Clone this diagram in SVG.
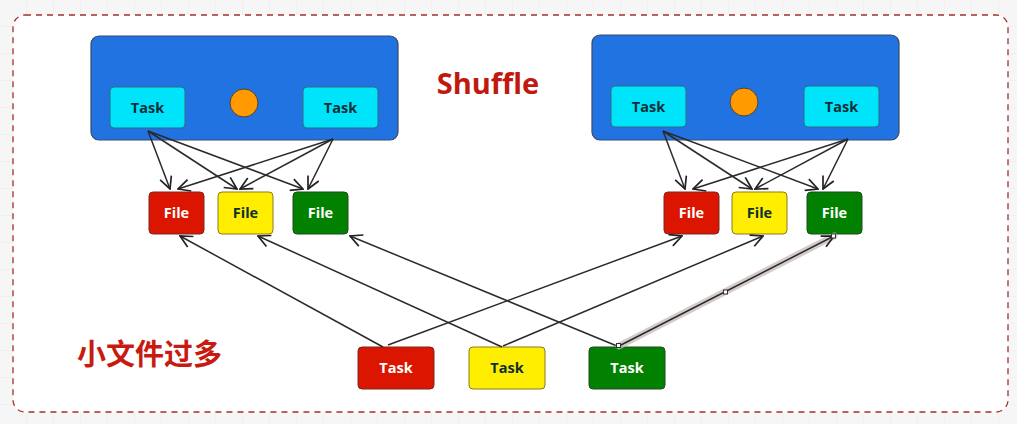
<svg xmlns="http://www.w3.org/2000/svg" width="1017" height="424" viewBox="0 0 1017 424">
  <defs>
    <pattern id="grid" width="27" height="27" patternUnits="userSpaceOnUse">
      <rect width="27" height="27" fill="#f6f6f6"/>
      <path d="M27 0V27M0 27H27" fill="none" stroke="#ebebeb" stroke-width="1"/>
    </pattern>
    <marker id="arrow" viewBox="0 0 14 14" refX="13" refY="7" markerWidth="14" markerHeight="14" markerUnits="userSpaceOnUse" orient="auto">
      <path d="M1 1L13 7L1 13" fill="none" stroke="#222" stroke-width="1.7"/>
    </marker>
    <style>
      .frame { fill: #ffffff; stroke: #a3302e; stroke-width: 1.3; stroke-dasharray: 6 5; }
      .stage { fill: #2273e2; stroke: #3a4a66; stroke-width: 1.2; }
      .task { fill: #00e4fb; stroke: #2b6f86; stroke-width: 1; }
      .dot { fill: #ff9a00; stroke: #4a4040; stroke-width: 1; }
      .red { fill: #dc1500; stroke: #7a2a20; stroke-width: 1; }
      .yellow { fill: #ffee00; stroke: #8a7a20; stroke-width: 1; }
      .green { fill: #028000; stroke: #1f4a1f; stroke-width: 1; }
      .lbl { font-family: "Open Sans", "Noto Sans", "Liberation Sans", sans-serif; font-weight: 700; font-size: 14.5px; text-anchor: middle; }
      .dark { fill: #0f2f36; }
      .light { fill: #ffffff; }
      .title { font-family: "Open Sans", "Noto Sans", "Liberation Sans", sans-serif; font-weight: 700; font-size: 29px; fill: #c01a10; text-anchor: middle; }
      .cjk { font-family: "Noto Sans CJK SC", "Noto Sans", sans-serif; font-weight: 700; font-size: 29px; fill: #c81a10; }
      .link { fill: none; stroke: #2a2a2a; stroke-width: 1.5; marker-end: url(#arrow); }
      .halo { fill: none; stroke: #c7b9b9; stroke-width: 7; stroke-linecap: round; opacity: 0.75; }
      .handle { fill: #ffffff; stroke: #333; stroke-width: 1; }
    </style>
  </defs>

  <!-- canvas and dashed frame -->
  <rect x="0" y="0" width="1017" height="424" fill="url(#grid)"/>
  <rect class="frame" x="13" y="15" width="995" height="397" rx="12"/>

  <!-- left stage -->
  <g id="stage-left">
    <rect class="stage" x="91" y="36" width="307" height="104" rx="8"/>
    <rect class="task" x="110" y="87" width="75" height="41" rx="4"/>
    <text class="lbl dark" x="147.5" y="112.5">Task</text>
    <circle class="dot" cx="244" cy="103" r="14"/>
    <rect class="task" x="303" y="87" width="75" height="41" rx="4"/>
    <text class="lbl dark" x="340.5" y="112.5">Task</text>
  </g>

  <!-- right stage -->
  <g id="stage-right">
    <rect class="stage" x="592" y="35" width="307" height="105" rx="8"/>
    <rect class="task" x="611" y="86" width="75" height="41" rx="4"/>
    <text class="lbl dark" x="648.5" y="111.5">Task</text>
    <circle class="dot" cx="744" cy="102" r="14"/>
    <rect class="task" x="804" y="86" width="75" height="41" rx="4"/>
    <text class="lbl dark" x="841.5" y="111.5">Task</text>
  </g>

  <text class="title" x="488" y="94">Shuffle</text>
  <text class="cjk" x="77" y="365">小文件过多</text>

  <!-- output files of the left stage -->
  <g id="files-left">
    <g id="file-l-red"><rect class="red" x="149" y="192" width="55" height="42" rx="4"/><text class="lbl light" x="176.5" y="217.5">File</text></g>
    <g id="file-l-yellow"><rect class="yellow" x="218" y="192" width="55" height="42" rx="4"/><text class="lbl dark" x="245.5" y="217.5">File</text></g>
    <g id="file-l-green"><rect class="green" x="293" y="192" width="55" height="42" rx="4"/><text class="lbl light" x="320.5" y="217.5">File</text></g>
  </g>

  <!-- output files of the right stage -->
  <g id="files-right">
    <g id="file-r-red"><rect class="red" x="664" y="192" width="55" height="42" rx="4"/><text class="lbl light" x="691.5" y="217.5">File</text></g>
    <g id="file-r-yellow"><rect class="yellow" x="732" y="192" width="55" height="42" rx="4"/><text class="lbl dark" x="759.5" y="217.5">File</text></g>
    <g id="file-r-green"><rect class="green" x="807" y="192" width="55" height="42" rx="4"/><text class="lbl light" x="834.5" y="217.5">File</text></g>
  </g>

  <!-- downstream tasks -->
  <g id="reduce-tasks">
    <g id="task-red"><rect class="red" x="358" y="347" width="76" height="42" rx="4"/><text class="lbl light" x="396" y="372.5">Task</text></g>
    <g id="task-yellow"><rect class="yellow" x="469" y="347" width="76" height="42" rx="4"/><text class="lbl dark" x="507" y="372.5">Task</text></g>
    <g id="task-green"><rect class="green" x="589" y="347" width="76" height="42" rx="4"/><text class="lbl light" x="627" y="372.5">Task</text></g>
  </g>

  <!-- connectors -->
  <g id="connectors">
    <!-- left stage writes -->
    <path class="link" d="M148 131L170 189"/>
    <path class="link" d="M148 131L237 189"/>
    <path class="link" d="M148 131L303 189"/>
    <path class="link" d="M333 139L178 189"/>
    <path class="link" d="M333 139L240 189"/>
    <path class="link" d="M333 139L308 189"/>
    <!-- right stage writes -->
    <path class="link" d="M663 131L685 189"/>
    <path class="link" d="M663 131L752 189"/>
    <path class="link" d="M663 131L818 189"/>
    <path class="link" d="M848 139L693 189"/>
    <path class="link" d="M848 139L755 189"/>
    <path class="link" d="M848 139L823 189"/>
    <!-- reads by downstream tasks -->
    <path class="link" d="M383 347L180 236"/>
    <path class="link" d="M502 347L258 236"/>
    <path class="link" d="M617 346L350 236"/>
    <path class="link" d="M388 345L682 236"/>
    <path class="link" d="M503 346L763 236"/>
    <path class="halo" d="M619 346L834 236"/>
    <path class="link" d="M619 346L834 236"/>
    <rect class="handle" x="616.5" y="343.5" width="4" height="4"/>
    <rect class="handle" x="723.5" y="290" width="4" height="4"/>
    <rect class="handle" x="831.5" y="234" width="4" height="4"/>
  </g>
</svg>
